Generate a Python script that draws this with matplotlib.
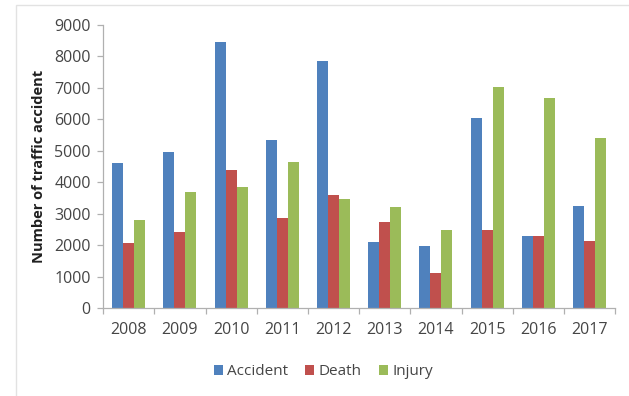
import numpy as np
import matplotlib
matplotlib.use("Agg")
import matplotlib.pyplot as plt
from matplotlib.patches import Rectangle

years = ["2008", "2009", "2010", "2011", "2012", "2013", "2014", "2015", "2016", "2017"]
accident = [4620, 4970, 8450, 5330, 7850, 2100, 1980, 6050, 2300, 3250]
death = [2070, 2420, 4380, 2860, 3600, 2740, 1100, 2480, 2300, 2130]
injury = [2800, 3700, 3850, 4650, 3470, 3200, 2480, 7040, 6680, 5420]

series = [("Accident", accident, "#4F81BD"),
          ("Death", death, "#C0504D"),
          ("Injury", injury, "#9BBB59")]

plt.rcParams['font.family'] = ['Open Sans', 'DejaVu Sans']

fig = plt.figure(figsize=(6.29, 3.96), dpi=100)
# light frame around the chart area (runs off the bottom/right edges)
fig.patches.append(Rectangle((0.026, -0.05), 1.0, 1.037, transform=fig.transFigure,
                             fill=False, edgecolor="#e2e2e2", linewidth=1.0))
ax = fig.add_axes([0.164, 0.222, 0.814, 0.715])

x = np.arange(len(years))
w = 0.215
for i, (name, vals, col) in enumerate(series):
    ax.bar(x + (i - 1) * w, vals, width=w, color=col, label=name, zorder=2)

ax.set_xlim(-0.5, len(years) - 0.5)
ax.set_ylim(0, 9000)
ax.set_yticks(np.arange(0, 9001, 1000))
ax.set_xticks(x)
ax.set_xticklabels(years)
ax.set_xticks(np.arange(-0.5, len(years), 1.0), minor=True)

for s in ["top", "right"]:
    ax.spines[s].set_visible(False)
for s in ["left", "bottom"]:
    ax.spines[s].set_color("#b0b0b0")
    ax.spines[s].set_linewidth(0.9)

ax.tick_params(axis="y", colors="#b0b0b0", labelcolor="#454545", labelsize=11.5,
               length=4, width=0.9, pad=5)
ax.tick_params(axis="x", which="major", length=0, labelcolor="#454545", labelsize=11.5, pad=10)
ax.tick_params(axis="x", which="minor", length=4, width=0.9, color="#b0b0b0")

ax.set_ylabel("Number of traffic accident", fontsize=10.5, fontweight="bold",
              color="#202020", labelpad=6)

ax.legend(loc="upper center", bbox_to_anchor=(0.43, -0.15), ncol=3, frameon=False,
          fontsize=11, handlelength=0.6, handleheight=0.6, handletextpad=0.3,
          columnspacing=1.1, labelcolor="#454545")

fig.savefig("out.png", dpi=100)
